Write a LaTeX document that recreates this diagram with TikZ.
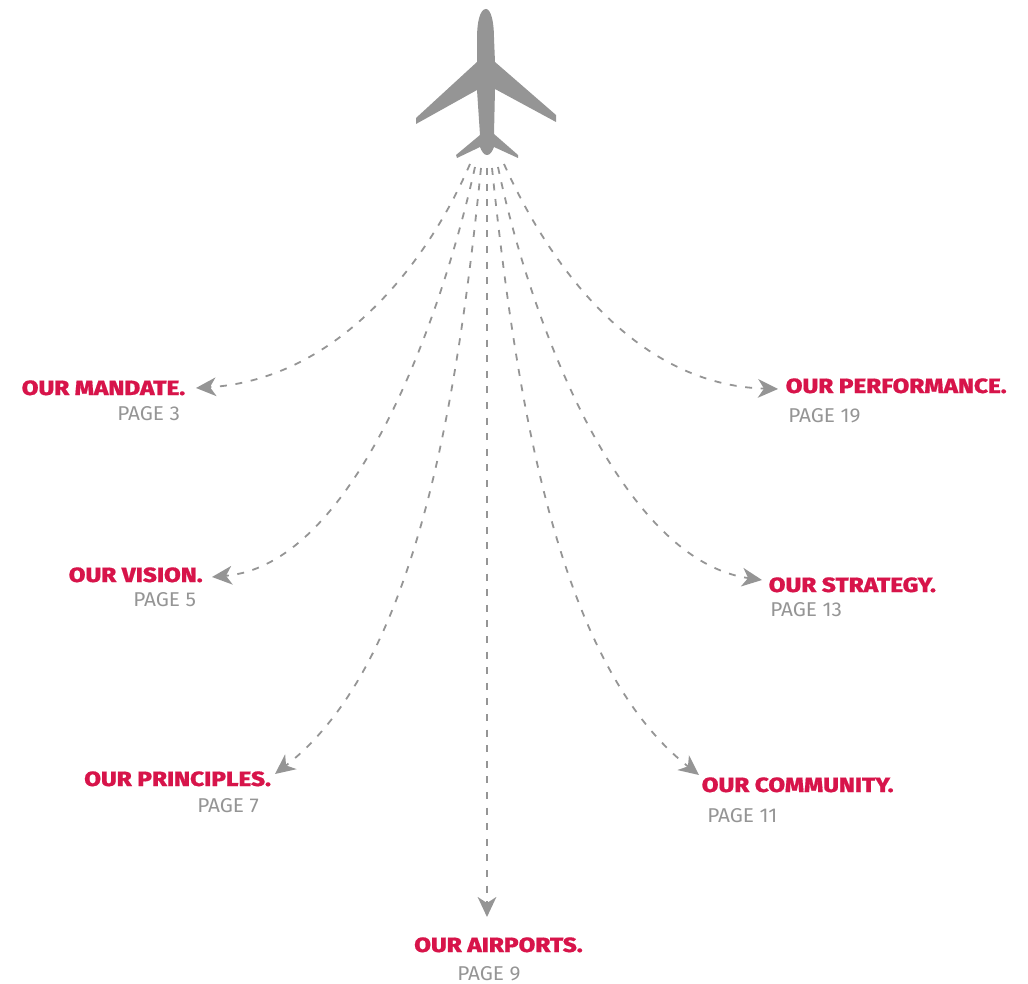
\documentclass[tikz,border=0pt]{standalone}
\usepackage{fontspec}
\setmainfont{Fira Sans}
\newfontfamily\heavyfont[FakeStretch=1.175,FakeBold=0.6]{Fira Sans ExtraBold}
\newfontfamily\lightfont[FakeStretch=1.04]{Fira Sans}
\usetikzlibrary{arrows.meta}
\definecolor{planegray}{HTML}{959595}
\definecolor{brandred}{HTML}{D7144A}
\tikzset{
  heading/.style={inner sep=0pt,text=brandred,font=\heavyfont\fontsize{15.5pt}{15.5pt}\selectfont,anchor=base west},
  pageref/.style={inner sep=0pt,text=planegray,font=\lightfont\fontsize{15pt}{15pt}\selectfont,anchor=base west},
  route/.style={draw=planegray,line width=1.35pt,dash pattern=on 5.2pt off 6.5pt,-{Stealth[length=15pt,width=14pt,inset=4.5pt]}}
}
\begin{document}
\begin{tikzpicture}[x=0.75pt,y=-0.75pt]
\useasboundingbox (0,0) rectangle (1028,984);
\fill[planegray] (486,9) .. controls (480,9) and (477,22) .. (477,38) -- (477,62) -- (416,118) -- (416,124) -- (477,90) -- (480,135) -- (456,155) -- (457,158) -- (480,147) .. controls (482,152) and (484,155) .. (487,155) .. controls (490,155) and (492,152) .. (494,147) -- (518,158) -- (518,155) -- (494,134) -- (495,89) -- (556,122) -- (556,115) -- (495,62) -- (494,38) .. controls (494,22) and (491,9) .. (486,9) -- cycle;
\coordinate (t1) at (470,164);
\coordinate (t2) at (475,167);
\coordinate (t3) at (481,168);
\coordinate (t4) at (487,168);
\coordinate (t5) at (492,168);
\coordinate (t6) at (498,167);
\coordinate (t7) at (504,164);
\node[heading] (mandate) at (21.5,395) {OUR MANDATE.};
\node[pageref] (p3) at (117,420) {PAGE 3};
\node[heading] (vision) at (68.5,582) {OUR VISION.};
\node[pageref] (p5) at (133,606) {PAGE 5};
\node[heading] (principles) at (84,786) {OUR PRINCIPLES.};
\node[pageref] (p7) at (197,812) {PAGE 7};
\node[heading] (airports) at (414,952) {OUR AIRPORTS.};
\node[pageref] (p9) at (457,980) {PAGE 9};
\node[heading] (community) at (701.5,792) {OUR COMMUNITY.};
\node[pageref] (p11) at (707,822) {PAGE 11};
\node[heading] (strategy) at (768.5,592) {OUR STRATEGY.};
\node[pageref] (p13) at (770,616) {PAGE 13};
\node[heading] (performance) at (785.5,393) {OUR PERFORMANCE.};
\node[pageref] (p19) at (788,422) {PAGE 19};
\coordinate (e1) at (196,388);
\coordinate (e2) at (212,577);
\coordinate (e3) at (275,774);
\coordinate (e4) at (487,917);
\coordinate (e5) at (699,775);
\coordinate (e6) at (762,580);
\coordinate (e7) at (778,389);
\draw[route] (t1) .. controls (422,275) and (330,380) .. (e1);
\draw[route] (t2) .. controls (440,325) and (352,565) .. (e2);
\draw[route] (t3) .. controls (456,418) and (412,668) .. (e3);
\draw[route] (t4) -- (e4);
\draw[route] (t5) .. controls (518,418) and (562,668) .. (e5);
\draw[route] (t6) .. controls (530,320) and (620,560) .. (e6);
\draw[route] (t7) .. controls (553,273) and (640,385) .. (e7);
\end{tikzpicture}
\end{document}
